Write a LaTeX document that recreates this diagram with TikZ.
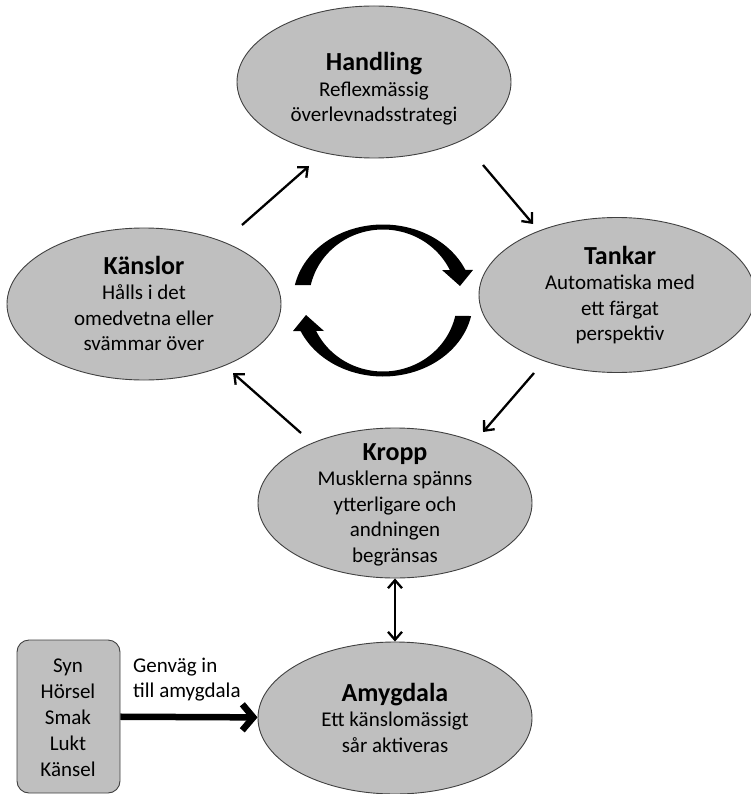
\documentclass[tikz,border=0pt]{standalone}
\usepackage{fontspec}
\setmainfont{Carlito}
\usetikzlibrary{arrows.meta,shapes.geometric,calc}
\newcommand{\mlines}[1]{\vtop{\halign{\hfil##\hfil\cr#1\crcr}}}
\newcommand{\llines}[1]{\vtop{\halign{##\hfil\cr#1\crcr}}}
\newcommand{\hdfont}{\bfseries\fontsize{26}{30}\selectfont}
\definecolor{ellfill}{RGB}{191,191,191}
\definecolor{ellline}{RGB}{64,64,64}
\tikzset{
  ell/.style={ellipse, draw=ellline, line width=0.9pt, fill=ellfill, inner sep=0pt,
    minimum width=274pt, minimum height=152pt},
  sensebox/.style={rectangle, rounded corners=12pt, draw=ellline, line width=0.9pt,
    fill=ellfill, inner sep=0pt, minimum width=103pt, minimum height=153pt},
  txt/.style={anchor=base, inner sep=0pt, font=\fontsize{21}{25.5}\selectfont},
  arr/.style={line width=2.3pt, -{Straight Barb[length=8pt,width=14pt]}},
  dblarr/.style={line width=2.3pt, {Straight Barb[length=8pt,width=14pt]}-{Straight Barb[length=8pt,width=14pt]}},
  thickarr/.style={line width=6.5pt, -{Straight Barb[length=11pt,width=26pt]}},
}
\begin{document}
\begin{tikzpicture}[x=1pt,y=-1pt]
\useasboundingbox (0,0) rectangle (750,794);

% ellipses
\node[ell] (handling) at (374,82) {};
\node[ell, minimum width=276pt, minimum height=155pt] (tankar) at (617,295) {};
\node[ell] (kanslor) at (144,304) {};
\node[ell, minimum height=150pt] (kropp) at (395,503) {};
\node[ell] (amygdala) at (395,718) {};
\node[sensebox] (sinnen) at (68.5,716.5) {};

% texts
\node[txt] (handlingT) at (374,71) {\mlines{\hdfont Handling\cr Reflexmässig\cr överlevnadsstrategi}};
\node[txt] (tankarT) at (620,264) {\mlines{\hdfont Tankar\cr Automatiska med\cr ett färgat\cr perspektiv}};
\node[txt] (kanslorT) at (144,274) {\mlines{\hdfont Känslor\cr Hålls i det\cr omedvetna eller\cr svämmar över}};
\node[txt] (kroppT) at (395,460) {\mlines{\hdfont Kropp\cr Musklerna spänns\cr ytterligare och\cr andningen\cr begränsas}};
\node[txt] (amygdalaT) at (395,701) {\mlines{\hdfont Amygdala\cr Ett känslomässigt\cr sår aktiveras}};
\node[txt, font=\fontsize{21}{26}\selectfont] (sinnenT) at (68,672) {\mlines{Syn\cr Hörsel\cr Smak\cr Lukt\cr Känsel}};
\node[txt, anchor=base west] (genvag) at (133,672) {\llines{Genväg in\cr till amygdala}};

% connectors
\draw[arr] ([shift={(98,-79)}]kanslor.center) -- ([shift={(-65,84)}]handling.center);
\draw[arr] ([shift={(109,83)}]handling.center) -- ([shift={(-84,-71)}]tankar.center);
\draw[arr] ([shift={(-83,78)}]tankar.center) -- ([shift={(88,-71)}]kropp.center);
\draw[arr] ([shift={(-94,-70)}]kropp.center) -- ([shift={(89,69)}]kanslor.center);
\draw[dblarr] (kropp.south) -- (amygdala.north);
\draw[thickarr] (sinnen) -- (amygdala);

% central cycle arrows
\foreach \rot in {0,180}{
\begin{scope}[shift={(383,300.5)}, rotate=\rot]
\fill[black] (-88.1,-15.5)
  -- plot[domain=-168.2:-23.7, samples=60] ({90*cos(\x)},{76*sin(\x)})
  -- (90,-30.5) -- (77,-14.5) -- (59,-30.5)
  -- plot[domain=-25.4:-167.4, samples=60] ({74*cos(\x)},{71*sin(\x)})
  -- cycle;
\end{scope}
}
\end{tikzpicture}
\end{document}
